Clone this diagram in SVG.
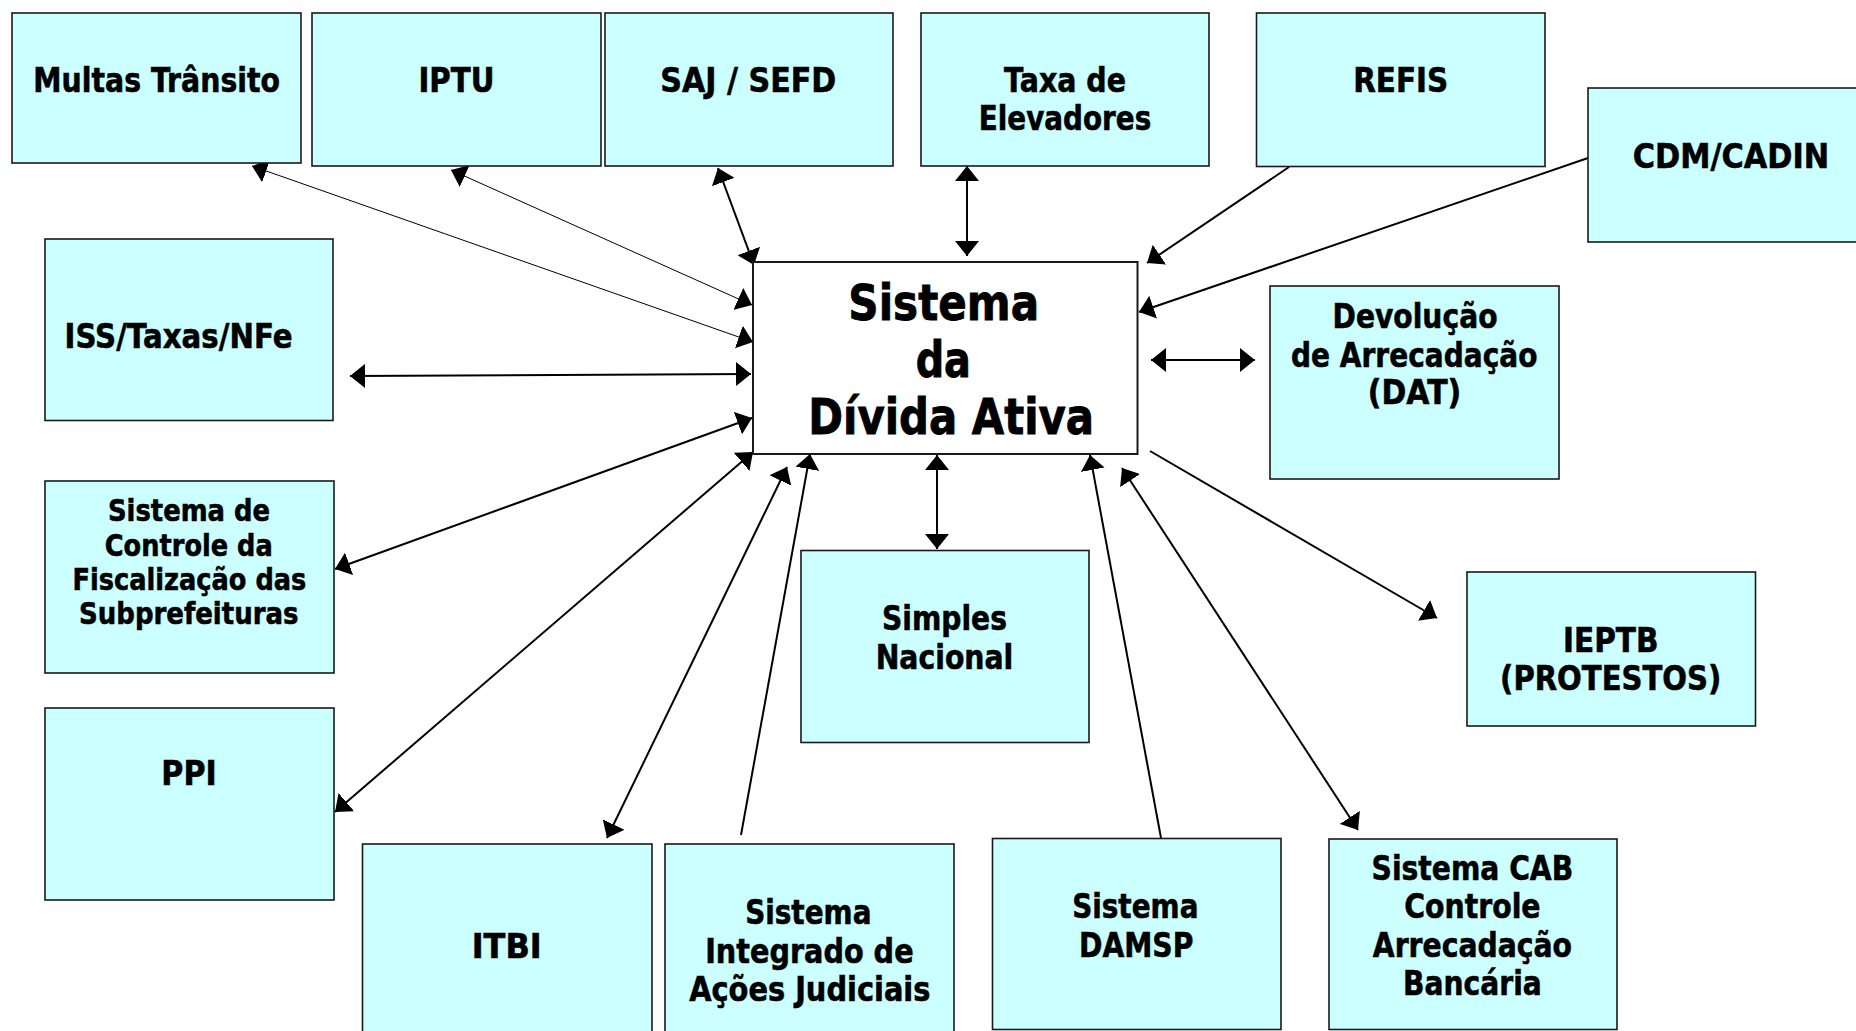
<svg xmlns="http://www.w3.org/2000/svg" width="1856" height="1031" viewBox="0 0 1856 1031">
<style>
  .box { fill: #CCFFFF; stroke: #1a1a1a; stroke-width: 1.6; }
  .main { fill: #FFFFFF; stroke: #1a1a1a; stroke-width: 2; }
  text { font-family: "DejaVu Sans", "Verdana", sans-serif; font-weight: bold; fill: #000; stroke: #000; stroke-width: 0.6; text-anchor: middle; }
  .lbl { font-size: 33px; }
  .sm { font-size: 30.5px; }
  .big { font-size: 50px; stroke-width: 0.9; }
  .c { fill: none; stroke: #000; stroke-width: 2; }
  .thin { fill: none; stroke: #000; stroke-width: 1; }
</style>
<defs>
  <marker id="ah" viewBox="0 0 15 24" refX="15" refY="12" markerWidth="15" markerHeight="24" markerUnits="userSpaceOnUse" orient="auto-start-reverse">
    <path d="M0,0 L15,12 L0,24 z" fill="#000"/>
  </marker>
</defs>
<rect width="1856" height="1031" fill="#FFFFFF"/>

<g id="connectors">
  <line class="thin" x1="252" y1="166" x2="753" y2="342" marker-start="url(#ah)" marker-end="url(#ah)"/>
  <line class="thin" x1="451" y1="170" x2="752" y2="305" marker-start="url(#ah)" marker-end="url(#ah)"/>
  <line class="c" x1="718" y1="168" x2="754" y2="265" marker-start="url(#ah)" marker-end="url(#ah)"/>
  <line class="c" x1="967" y1="166" x2="967" y2="256" marker-start="url(#ah)" marker-end="url(#ah)"/>
  <line class="c" x1="1289" y1="167" x2="1147" y2="263" marker-end="url(#ah)"/>
  <line class="c" x1="1588" y1="158" x2="1139" y2="312" marker-end="url(#ah)"/>
  <line class="c" x1="1151" y1="360" x2="1255" y2="360" marker-start="url(#ah)" marker-end="url(#ah)"/>
  <line class="c" x1="350" y1="376" x2="751" y2="374" marker-start="url(#ah)" marker-end="url(#ah)"/>
  <line class="c" x1="335" y1="569" x2="752" y2="418" marker-start="url(#ah)" marker-end="url(#ah)"/>
  <line class="c" x1="335" y1="812" x2="753" y2="452" marker-start="url(#ah)" marker-end="url(#ah)"/>
  <line class="c" x1="607" y1="838" x2="787" y2="467" marker-start="url(#ah)" marker-end="url(#ah)"/>
  <line class="c" x1="741" y1="835" x2="810" y2="454" marker-end="url(#ah)"/>
  <line class="c" x1="937" y1="455" x2="937" y2="549" marker-start="url(#ah)" marker-end="url(#ah)"/>
  <line class="c" x1="1161" y1="838" x2="1090" y2="455" marker-end="url(#ah)"/>
  <line class="c" x1="1358" y1="830" x2="1122" y2="468" marker-start="url(#ah)" marker-end="url(#ah)"/>
  <line class="c" x1="1150" y1="451" x2="1437" y2="618" marker-end="url(#ah)"/>
</g>

<g id="multas">
  <rect class="box" x="12" y="13" width="289" height="150"/>
  <text class="lbl" x="156.7" y="92" textLength="246.7" lengthAdjust="spacingAndGlyphs">Multas Trânsito</text>
</g>
<g id="iptu">
  <rect class="box" x="312" y="13" width="289" height="153"/>
  <text class="lbl" x="456.4" y="92" textLength="76" lengthAdjust="spacingAndGlyphs">IPTU</text>
</g>
<g id="saj">
  <rect class="box" x="605" y="13" width="288" height="153"/>
  <text class="lbl" x="748.3" y="92" textLength="176" lengthAdjust="spacingAndGlyphs">SAJ / SEFD</text>
</g>
<g id="taxa">
  <rect class="box" x="921" y="13" width="288" height="153"/>
  <text class="lbl" x="1065" y="92" textLength="122" lengthAdjust="spacingAndGlyphs">Taxa de</text>
  <text class="lbl" x="1065" y="130" textLength="172.5" lengthAdjust="spacingAndGlyphs">Elevadores</text>
</g>
<g id="refis">
  <rect class="box" x="1256.5" y="13" width="288.5" height="153.5"/>
  <text class="lbl" x="1400.7" y="92" textLength="95" lengthAdjust="spacingAndGlyphs">REFIS</text>
</g>
<g id="cdm">
  <rect class="box" x="1588" y="88" width="290" height="154"/>
  <text class="lbl" x="1731" y="168" textLength="196.5" lengthAdjust="spacingAndGlyphs">CDM/CADIN</text>
</g>
<g id="iss">
  <rect class="box" x="45" y="239" width="288" height="181.5"/>
  <text class="lbl" x="178.5" y="348" textLength="228" lengthAdjust="spacingAndGlyphs">ISS/Taxas/NFe</text>
</g>
<g id="central">
  <rect class="main" x="753" y="262" width="384.5" height="192"/>
  <text class="big" x="943.7" y="320" textLength="190.7" lengthAdjust="spacingAndGlyphs">Sistema</text>
  <text class="big" x="943.3" y="377.3" textLength="55.3" lengthAdjust="spacingAndGlyphs">da</text>
  <text class="big" x="951.2" y="434.3" textLength="285.7" lengthAdjust="spacingAndGlyphs">Dívida Ativa</text>
</g>
<g id="devolucao">
  <rect class="box" x="1270" y="286" width="289" height="193"/>
  <text class="lbl" x="1415" y="328" textLength="165" lengthAdjust="spacingAndGlyphs">Devolução</text>
  <text class="lbl" x="1414.2" y="366.5" textLength="246.4" lengthAdjust="spacingAndGlyphs">de Arrecadação</text>
  <text class="lbl" x="1414.5" y="404" textLength="93.5" lengthAdjust="spacingAndGlyphs">(DAT)</text>
</g>
<g id="controle">
  <rect class="box" x="45" y="481" width="289" height="192"/>
  <text class="sm" x="189" y="521" textLength="162" lengthAdjust="spacingAndGlyphs">Sistema de</text>
  <text class="sm" x="188.8" y="555.5" textLength="168" lengthAdjust="spacingAndGlyphs">Controle da</text>
  <text class="sm" x="189.4" y="590" textLength="234" lengthAdjust="spacingAndGlyphs">Fiscalização das</text>
  <text class="sm" x="188.8" y="624" textLength="219.5" lengthAdjust="spacingAndGlyphs">Subprefeituras</text>
</g>
<g id="ppi">
  <rect class="box" x="45" y="708" width="289" height="192"/>
  <text class="lbl" x="189" y="784.5" textLength="55.4" lengthAdjust="spacingAndGlyphs">PPI</text>
</g>
<g id="simples">
  <rect class="box" x="801" y="550.5" width="288" height="192"/>
  <text class="lbl" x="944.5" y="629.5" textLength="125" lengthAdjust="spacingAndGlyphs">Simples</text>
  <text class="lbl" x="944.5" y="668.5" textLength="137.6" lengthAdjust="spacingAndGlyphs">Nacional</text>
</g>
<g id="ieptb">
  <rect class="box" x="1467" y="572" width="288.5" height="154"/>
  <text class="lbl" x="1610.8" y="652" textLength="95.5" lengthAdjust="spacingAndGlyphs">IEPTB</text>
  <text class="lbl" x="1610.7" y="690" textLength="221.2" lengthAdjust="spacingAndGlyphs">(PROTESTOS)</text>
</g>
<g id="itbi">
  <rect class="box" x="362.5" y="844" width="289.5" height="200"/>
  <text class="lbl" x="506.7" y="957.5" textLength="70" lengthAdjust="spacingAndGlyphs">ITBI</text>
</g>
<g id="integrado">
  <rect class="box" x="665" y="844" width="289" height="200"/>
  <text class="lbl" x="808.3" y="923.5" textLength="126.3" lengthAdjust="spacingAndGlyphs">Sistema</text>
  <text class="lbl" x="809.4" y="962.5" textLength="208.4" lengthAdjust="spacingAndGlyphs">Integrado de</text>
  <text class="lbl" x="809.8" y="1001" textLength="241.2" lengthAdjust="spacingAndGlyphs">Ações Judiciais</text>
</g>
<g id="damsp">
  <rect class="box" x="992.5" y="838.5" width="288.5" height="191"/>
  <text class="lbl" x="1135.3" y="918" textLength="126.3" lengthAdjust="spacingAndGlyphs">Sistema</text>
  <text class="lbl" x="1136.2" y="956.7" textLength="114.4" lengthAdjust="spacingAndGlyphs">DAMSP</text>
</g>
<g id="cab">
  <rect class="box" x="1329" y="839" width="288" height="190.5"/>
  <text class="lbl" x="1472.4" y="880" textLength="201.6" lengthAdjust="spacingAndGlyphs">Sistema CAB</text>
  <text class="lbl" x="1472.4" y="918.3" textLength="136.4" lengthAdjust="spacingAndGlyphs">Controle</text>
  <text class="lbl" x="1472.4" y="956.7" textLength="199.2" lengthAdjust="spacingAndGlyphs">Arrecadação</text>
  <text class="lbl" x="1472.4" y="995" textLength="138.8" lengthAdjust="spacingAndGlyphs">Bancária</text>
</g>
</svg>
